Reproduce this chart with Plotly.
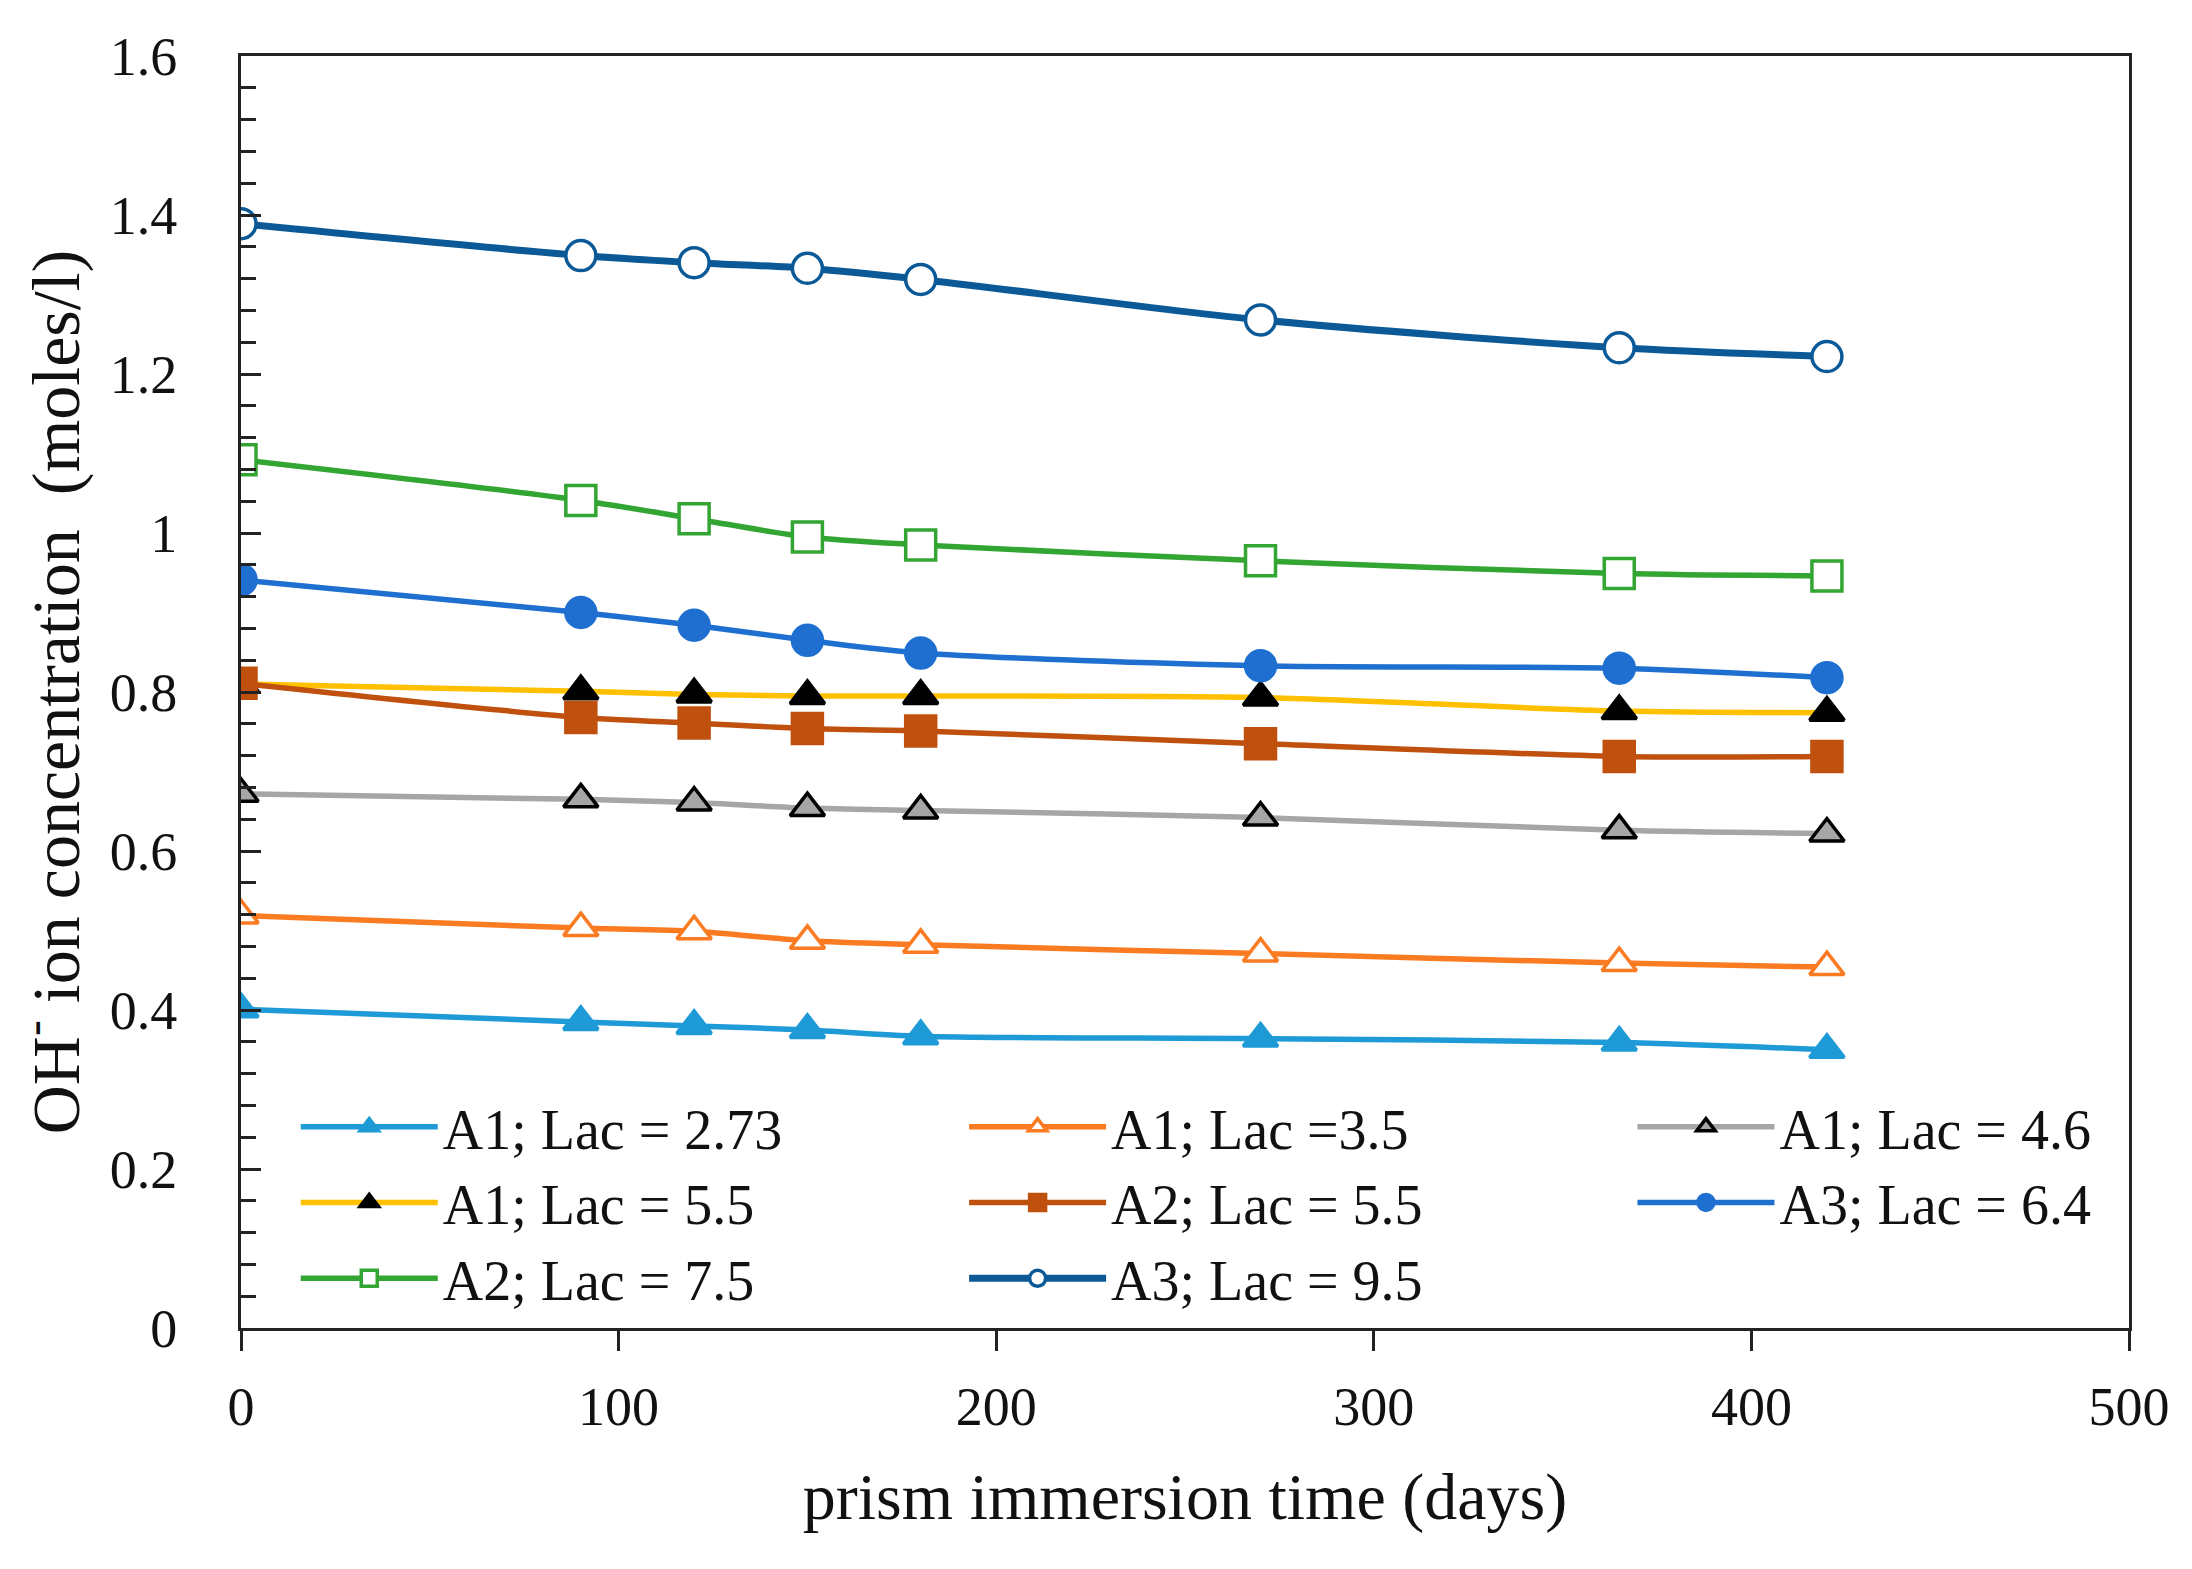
import plotly.graph_objects as go

days = [0, 90, 120, 150, 180, 270, 365, 420]

names = ["A1; Lac = 2.73", "A1; Lac =3.5", "A1; Lac = 4.6", "A1; Lac = 5.5",
         "A2; Lac = 5.5", "A3; Lac = 6.4", "A2; Lac = 7.5", "A3; Lac = 9.5"]

a1_273 = [0.401, 0.385, 0.380, 0.375, 0.367, 0.364, 0.359, 0.350]
a1_35 = [0.519, 0.503, 0.499, 0.487, 0.482, 0.471, 0.459, 0.454]
a1_46 = [0.672, 0.665, 0.661, 0.654, 0.651, 0.642, 0.626, 0.622]
a1_55 = [0.810, 0.801, 0.797, 0.795, 0.795, 0.793, 0.776, 0.774]
a2_55 = [0.811, 0.768, 0.761, 0.754, 0.751, 0.735, 0.719, 0.719]
a3_64 = [0.941, 0.900, 0.884, 0.865, 0.849, 0.833, 0.830, 0.818]
a2_75 = [1.092, 1.041, 1.018, 0.995, 0.985, 0.965, 0.949, 0.946]
a3_95 = [1.389, 1.349, 1.340, 1.333, 1.319, 1.268, 1.233, 1.222]

x_ticks = [0, 100, 200, 300, 400, 500]
y_ticks = [0, 0.2, 0.4, 0.6, 0.8, 1.0, 1.2, 1.4, 1.6]
y_tick_labels = ["0", "0.2", "0.4", "0.6", "0.8", "1", "1.2", "1.4", "1.6"]

series = [a1_273, a1_35, a1_46, a1_55, a2_55, a3_64, a2_75, a3_95]
styles = [
    dict(lc="#1E9AD6", sym="triangle-up", fill="#1E9AD6", mlc="#1E9AD6", lw=5.5, leg="legend"),
    dict(lc="#FA7B22", sym="triangle-up", fill="#FFFFFF", mlc="#FA7B22", lw=5.5, leg="legend2"),
    dict(lc="#A6A6A6", sym="triangle-up", fill="#A6A6A6", mlc="#000000", lw=5.5, leg="legend3"),
    dict(lc="#FFC000", sym="triangle-up", fill="#000000", mlc="#000000", lw=5.5, leg="legend"),
    dict(lc="#C0500E", sym="square", fill="#C0500E", mlc="#C0500E", lw=5.5, leg="legend2"),
    dict(lc="#1F6FD1", sym="circle", fill="#1F6FD1", mlc="#1F6FD1", lw=5.5, leg="legend3"),
    dict(lc="#33A532", sym="square", fill="#FFFFFF", mlc="#33A532", lw=5.5, leg="legend"),
    dict(lc="#0B5A97", sym="circle", fill="#FFFFFF", mlc="#0B5A97", lw=7, leg="legend2"),
]

fig = go.Figure()
for i, (nm, ys, st) in enumerate(zip(names, series, styles)):
    fig.add_trace(go.Scatter(
        x=days, y=ys, name=nm, mode="lines+markers",
        line=dict(color=st["lc"], width=st["lw"], shape="spline", smoothing=0.8),
        marker=dict(symbol=st["sym"], size=30, color=st["fill"],
                    line=dict(color=st["mlc"], width=3.5)),
        legend=st["leg"], legendgroup="g%d" % i,
    ))

FONT = "Liberation Serif"
legend_common = dict(
    orientation="v", xref="paper", yref="paper", yanchor="top", xanchor="left",
    font=dict(family=FONT, size=56, color="#111111"), bgcolor="rgba(0,0,0,0)",
    itemwidth=137, tracegroupgap=0, itemclick=False,
)

fig.update_layout(
    width=2176, height=1553,
    margin=dict(l=233, r=55, t=48, b=233),
    paper_bgcolor="white", plot_bgcolor="white",
    font=dict(family=FONT, size=54, color="#111111"),
    showlegend=True,
    legend=dict(x=0.029, y=0.192, **legend_common),
    legend2=dict(x=0.383, y=0.192, **legend_common),
    legend3=dict(x=0.737, y=0.192, **legend_common),
    xaxis=dict(
        range=[0, 500], tickvals=x_ticks, ticktext=[str(v) for v in x_ticks],
        ticks="outside", ticklen=20, tickwidth=2.5, tickcolor="#222222",
        showline=True, linecolor="#222222", linewidth=3, mirror=True,
        showgrid=False, zeroline=False, ticklabelstandoff=9,
        tickfont=dict(family=FONT, size=54, color="#111111"),
        title=dict(text="prism immersion time (days)", standoff=38,
                   font=dict(family=FONT, size=66, color="#111111")),
    ),
    xaxis2=dict(
        range=[0, 500], overlaying="x", anchor="y", side="bottom",
        dtick=20, tick0=0, ticks="inside", ticklen=15, tickwidth=2.5, tickcolor="#222222",
        showticklabels=False, showline=False, showgrid=False, zeroline=False,
    ),
    yaxis=dict(
        range=[0, 1.6], tickvals=y_ticks, ticktext=y_tick_labels,
        ticks="inside", ticklen=20, tickwidth=2.5, tickcolor="#222222",
        minor=dict(dtick=0.04, tick0=0, ticks="inside", ticklen=15, tickwidth=2.5, tickcolor="#222222"),
        showline=True, linecolor="#222222", linewidth=3, mirror=True,
        showgrid=False, zeroline=False, ticklabelstandoff=50,
        tickfont=dict(family=FONT, size=54, color="#111111"),
        title=dict(text="OH<sup>-</sup> ion concentration  (moles/l)", standoff=20,
                   font=dict(family=FONT, size=68, color="#111111")),
    ),
)

fig.write_html("out.html")
